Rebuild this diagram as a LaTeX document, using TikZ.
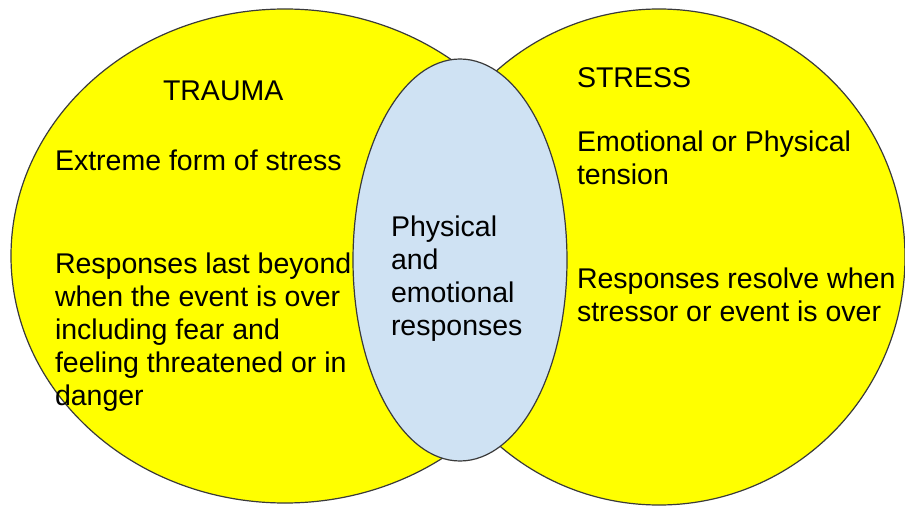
\documentclass[tikz,border=0pt]{standalone}
\usepackage{fontspec}
\setmainfont{Liberation Sans}
\definecolor{vyellow}{HTML}{FFFF00}
\definecolor{vblue}{HTML}{CFE2F3}
\definecolor{vline}{HTML}{3A3A3A}
\begin{document}
\begin{tikzpicture}[x=1pt,y=-1pt,
  setshape/.style={draw=vline,line width=1.2pt},
  lbl/.style={inner sep=0pt,outer sep=0pt,align=left,font=\fontsize{28.5}{33}\selectfont,text=black}]
\useasboundingbox (0,0) rectangle (905,508);
\fill[white] (0,0) rectangle (905,508);
% circles
\draw[setshape,fill=vyellow] (285,256) ellipse [x radius=274, y radius=247];
\draw[setshape,fill=vyellow] (659,257) ellipse [x radius=246, y radius=248];
\draw[setshape,fill=vblue] (460,260) ellipse [x radius=107, y radius=201];
% labels
\node[lbl,anchor=base west] (trauma) at (163,101) {TRAUMA};
\node[lbl,anchor=base west] (stress) at (577,88) {STRESS};
\node[lbl,anchor=base west] (extreme) at (55,171) {Extreme form of stress};
\node[lbl,anchor=north west] (tresp) at (55,253) {Responses last beyond\\when the event is over\\including fear and\\feeling threatened or in\\danger};
\node[lbl,anchor=north west] (common) at (391,216) {Physical\\and\\emotional\\responses};
\node[lbl,anchor=north west] (tension) at (577,131) {Emotional or Physical\\tension};
\node[lbl,anchor=north west] (sresp) at (577,268) {Responses resolve when\\stressor or event is over};
\end{tikzpicture}
\end{document}
